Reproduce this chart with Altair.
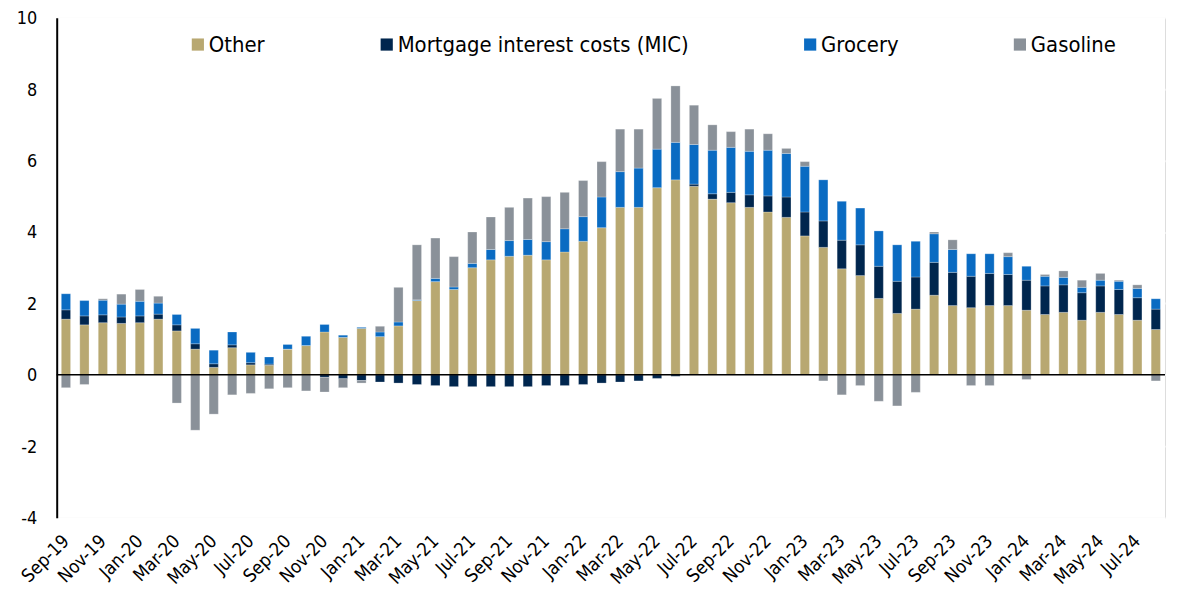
import altair as alt
import pandas as pd

months = [
    "Sep-19", "Oct-19", "Nov-19", "Dec-19",
    "Jan-20", "Feb-20", "Mar-20", "Apr-20", "May-20", "Jun-20", "Jul-20", "Aug-20", "Sep-20", "Oct-20", "Nov-20", "Dec-20",
    "Jan-21", "Feb-21", "Mar-21", "Apr-21", "May-21", "Jun-21", "Jul-21", "Aug-21", "Sep-21", "Oct-21", "Nov-21", "Dec-21",
    "Jan-22", "Feb-22", "Mar-22", "Apr-22", "May-22", "Jun-22", "Jul-22", "Aug-22", "Sep-22", "Oct-22", "Nov-22", "Dec-22",
    "Jan-23", "Feb-23", "Mar-23", "Apr-23", "May-23", "Jun-23", "Jul-23", "Aug-23", "Sep-23", "Oct-23", "Nov-23", "Dec-23",
    "Jan-24", "Feb-24", "Mar-24", "Apr-24", "May-24", "Jun-24", "Jul-24", "Aug-24",
]

other = [
    1.56, 1.40, 1.46, 1.44,
    1.46, 1.56, 1.23, 0.72, 0.21, 0.76, 0.28, 0.27, 0.72, 0.82, 1.20, 1.05,
    1.30, 1.07, 1.37, 2.08, 2.61, 2.39, 3.00, 3.22, 3.32, 3.35, 3.22, 3.44,
    3.74, 4.12, 4.69, 4.69, 5.24, 5.46, 5.28, 4.92, 4.82, 4.69, 4.56, 4.41,
    3.89, 3.57, 2.97, 2.78, 2.14, 1.72, 1.84, 2.23, 1.94, 1.88, 1.94, 1.94,
    1.81, 1.69, 1.75, 1.53, 1.75, 1.69, 1.53, 1.27,
]
mic = [
    0.26, 0.25, 0.22, 0.18,
    0.19, 0.14, 0.17, 0.15, 0.10, 0.08, 0.06, 0.03, 0.00, 0.00, -0.07, -0.11,
    -0.16, -0.20, -0.23, -0.27, -0.30, -0.33, -0.33, -0.33, -0.33, -0.33, -0.30, -0.30,
    -0.27, -0.23, -0.20, -0.17, -0.10, -0.04, 0.06, 0.15, 0.29, 0.35, 0.45, 0.57,
    0.67, 0.74, 0.80, 0.86, 0.90, 0.90, 0.90, 0.92, 0.93, 0.88, 0.90, 0.87,
    0.84, 0.80, 0.77, 0.77, 0.74, 0.70, 0.63, 0.57,
]
grocery = [
    0.45, 0.43, 0.41, 0.36,
    0.41, 0.31, 0.29, 0.43, 0.38, 0.36, 0.29, 0.20, 0.13, 0.26, 0.21, 0.06,
    0.03, 0.13, 0.11, 0.02, 0.09, 0.07, 0.12, 0.29, 0.44, 0.44, 0.51, 0.65,
    0.69, 0.86, 1.00, 1.10, 1.08, 1.05, 1.11, 1.22, 1.26, 1.22, 1.28, 1.22,
    1.28, 1.15, 1.09, 1.03, 0.99, 1.02, 1.00, 0.80, 0.64, 0.63, 0.55, 0.50,
    0.39, 0.27, 0.21, 0.15, 0.16, 0.23, 0.26, 0.29,
]
gasoline = [
    -0.36, -0.27, 0.04, 0.28,
    0.33, 0.19, -0.79, -1.55, -1.10, -0.56, -0.52, -0.39, -0.36, -0.45, -0.41, -0.25,
    -0.07, 0.16, 0.97, 1.54, 1.13, 0.85, 0.88, 0.91, 0.93, 1.16, 1.26, 1.02,
    1.01, 0.99, 1.19, 1.09, 1.42, 1.58, 1.10, 0.71, 0.44, 0.62, 0.46, 0.14,
    0.13, -0.17, -0.56, -0.30, -0.74, -0.87, -0.49, 0.05, 0.27, -0.30, -0.30, 0.11,
    -0.13, 0.05, 0.18, 0.20, 0.19, 0.03, 0.10, -0.17,
]

series_names = ["Other", "Mortgage interest costs (MIC)", "Grocery", "Gasoline"]
series_colors = ["#B8A871", "#00264E", "#0A6BC2", "#8A9199"]
y_ticks = [-4, -2, 0, 2, 4, 6, 8, 10]

rows = []
for name, vals in zip(series_names, [other, mic, grocery, gasoline]):
    for m, v in zip(months, vals):
        rows.append({"month": m, "series": name, "value": v, "order": series_names.index(name)})
df = pd.DataFrame(rows)

FONT = "DejaVu Sans Condensed, DejaVu Sans, sans-serif"

bars = alt.Chart(df).mark_bar(stroke="white", strokeWidth=0.5, strokeOpacity=0.5).encode(
    x=alt.X(
        "month:N",
        sort=months,
        scale=alt.Scale(paddingInner=0.5, paddingOuter=0.25),
        axis=alt.Axis(
            values=months[::2], labelAngle=-45, labelAlign="right", labelBaseline="middle",
            labelPadding=20, ticks=False, tickSize=0, domain=False, title=None,
            labelFontSize=18.5, labelFont=FONT, labelColor="black",
        ),
    ),
    y=alt.Y(
        "value:Q",
        stack="zero",
        scale=alt.Scale(domain=[-4, 10], nice=False),
        axis=alt.Axis(
            values=y_ticks, title=None, ticks=False, tickSize=0, labelPadding=20,
            labelOffset=1, labelExpr="datum.value + ''",
            labelFontSize=18, labelFont=FONT, labelColor="black",
            domainColor="black", domainWidth=2,
            grid=True, gridColor="white", gridWidth=2,
        ),
    ),
    color=alt.Color(
        "series:N",
        sort=series_names,
        scale=alt.Scale(domain=series_names, range=series_colors),
        legend=alt.Legend(
            title=None, orient="none", legendX=131, legendY=16, direction="horizontal",
            symbolType="square", symbolSize=150, symbolStrokeWidth=0,
            labelFontSize=22, labelFont=FONT, labelColor="black", labelOffset=0,
            labelLimit=0, columnPadding=111, padding=0,
        ),
    ),
    order=alt.Order("order:Q", sort="ascending"),
)

zero = alt.Chart(pd.DataFrame({"y": [0]})).mark_rule(color="black", strokeWidth=1.5).encode(
    y=alt.Y("y:Q", scale=alt.Scale(domain=[-4, 10], nice=False))
)

chart = alt.layer(bars, zero).properties(
    width=1115,
    height=503,
    autosize=alt.AutoSizeParams(type="none"),
    padding={"left": 49, "top": 8, "right": 5, "bottom": 77},
).configure_view(
    fill="#EFF6FD", stroke=None
).configure(background="white")

chart.save("out.html", embed_options={"renderer": "svg", "actions": False})
